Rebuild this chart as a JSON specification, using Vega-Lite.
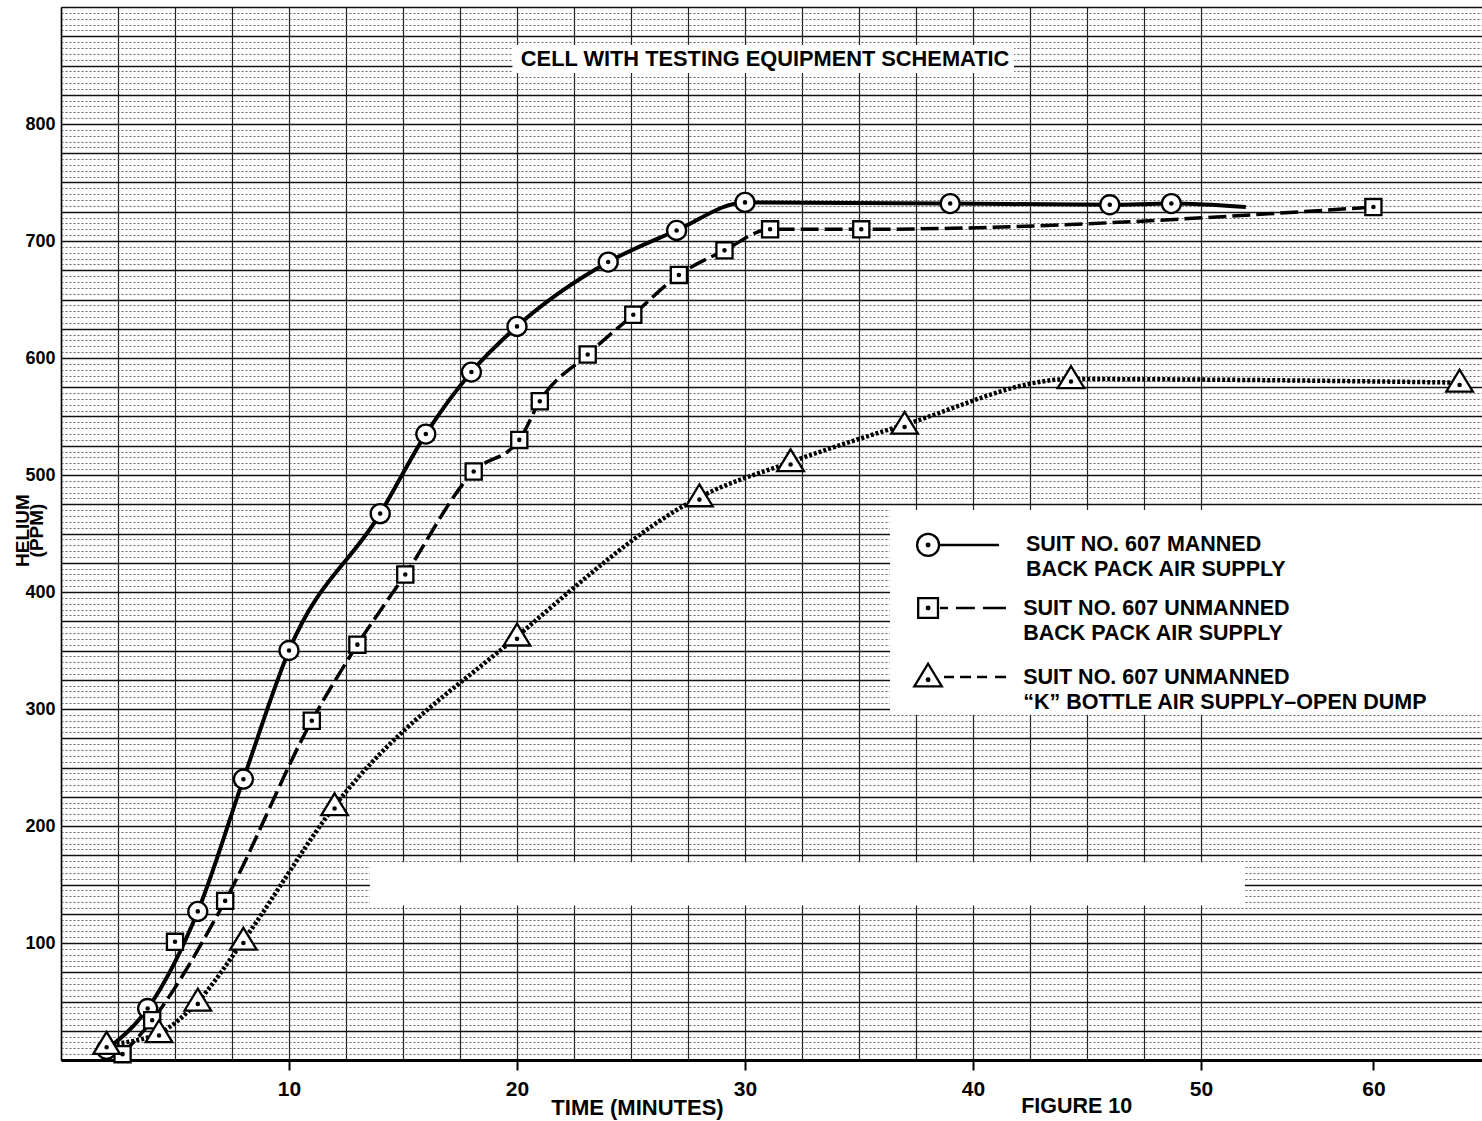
{
  "$schema": "https://vega.github.io/schema/vega-lite/v6.json",
  "width": 1421,
  "height": 1053,
  "autosize": "none",
  "padding": {"left": 61, "top": 7, "right": 0, "bottom": 61},
  "background": "white",
  "config": {"view": {"stroke": null}, "font": "Liberation Sans"},
  "title": {
    "text": "MANNED AND UNMANNED CHAMBER TEST, HELIUM TRACER",
    "font": "Liberation Sans",
    "fontSize": 21, "fontWeight": "bold", "color": "black",
    "anchor": "middle", "offset": 1, "dx": 11
  },
  "data": {"values": [
    {"series": "manned", "t": 2, "ppm": 9},
    {"series": "manned", "t": 3.8, "ppm": 44},
    {"series": "manned", "t": 6, "ppm": 127},
    {"series": "manned", "t": 8, "ppm": 240},
    {"series": "manned", "t": 10, "ppm": 350},
    {"series": "manned", "t": 14, "ppm": 467},
    {"series": "manned", "t": 16, "ppm": 535},
    {"series": "manned", "t": 18, "ppm": 588},
    {"series": "manned", "t": 20, "ppm": 627},
    {"series": "manned", "t": 24, "ppm": 682},
    {"series": "manned", "t": 27, "ppm": 709},
    {"series": "manned", "t": 30, "ppm": 733},
    {"series": "manned", "t": 39, "ppm": 732},
    {"series": "manned", "t": 46, "ppm": 731},
    {"series": "manned", "t": 48.7, "ppm": 732},
    {"series": "manned", "t": 52.6, "ppm": 729, "kind": "end"},
    {"series": "bp", "t": 2.7, "ppm": 5},
    {"series": "bp", "t": 4, "ppm": 34},
    {"series": "bp", "t": 5, "ppm": 101, "fit": false},
    {"series": "bp", "t": 7.2, "ppm": 136},
    {"series": "bp", "t": 11, "ppm": 290},
    {"series": "bp", "t": 13, "ppm": 355},
    {"series": "bp", "t": 15.1, "ppm": 415},
    {"series": "bp", "t": 18.1, "ppm": 503},
    {"series": "bp", "t": 20.1, "ppm": 530},
    {"series": "bp", "t": 21, "ppm": 563},
    {"series": "bp", "t": 23.1, "ppm": 603},
    {"series": "bp", "t": 25.1, "ppm": 637},
    {"series": "bp", "t": 27.1, "ppm": 671},
    {"series": "bp", "t": 29.1, "ppm": 692},
    {"series": "bp", "t": 31.1, "ppm": 710},
    {"series": "bp", "t": 35.1, "ppm": 710},
    {"series": "bp", "t": 60, "ppm": 729},
    {"series": "k", "t": 2, "ppm": 13},
    {"series": "k", "t": 4.3, "ppm": 23},
    {"series": "k", "t": 6, "ppm": 50},
    {"series": "k", "t": 8, "ppm": 102},
    {"series": "k", "t": 12, "ppm": 217},
    {"series": "k", "t": 20, "ppm": 362},
    {"series": "k", "t": 28, "ppm": 481},
    {"series": "k", "t": 32, "ppm": 511},
    {"series": "k", "t": 37, "ppm": 543},
    {"series": "k", "t": 44.3, "ppm": 582},
    {"series": "k", "t": 65, "ppm": 579}
  ]},
  "layer": [
    {
      "transform": [{"filter": "datum.series === 'manned'"}],
      "mark": {"type": "line", "interpolate": "monotone", "color": "black", "strokeWidth": 4},
      "encoding": {
        "x": {
          "field": "t", "type": "quantitative",
          "scale": {"type": "linear", "domain": [0, 50, 66.3], "range": [0, 1140, 1421], "zero": false, "nice": false},
          "axis": {
            "title": "TIME (MINUTES)",
            "titleFont": "Liberation Sans",
            "titleFontSize": 22, "titleFontWeight": "bold", "titleColor": "black",
            "titleX": 576, "titleY": 47, "titleBaseline": "middle", "titleAlign": "center",
            "values": [0,1.25,2.5,3.75,5,6.25,7.5,8.75,10,11.25,12.5,13.75,15,16.25,17.5,18.75,20,21.25,22.5,23.75,25,26.25,27.5,28.75,30,31.25,32.5,33.75,35,36.25,37.5,38.75,40,41.25,42.5,43.75,45,46.25,47.5,48.75,50,51.25,60],
            "labelExpr": "datum.value % 10 === 0 && datum.value > 0 ? datum.label : ''",
            "labelFont": "Liberation Sans",
            "labelFontSize": 21, "labelFontWeight": "bold", "labelColor": "black",
            "labelPadding": 8, "labelOverlap": false, "labelFlush": false, "labelBound": false,
            "tickSize": 10, "tickWidth": 2, "tickColor": "black",
            "tickOpacity": {"condition": {"test": "datum.value % 10 === 0 && datum.value > 0", "value": 1}, "value": 0},
            "domainColor": "black", "domainWidth": 3,
            "grid": true,
            "gridColor": {"condition": {"test": "datum.value % 2.5 === 0", "value": "#222222"}, "value": "#555555"},
            "gridWidth": {"condition": {"test": "datum.value % 2.5 === 0", "value": 1.2}, "value": 1},
            "gridDash": {"condition": {"test": "datum.value % 2.5 === 0", "value": []}, "value": [2, 2]},
            "gridOpacity": {"condition": {"test": "datum.value > 52", "value": 0}, "value": 1}
          }
        },
        "y": {
          "field": "ppm", "type": "quantitative",
          "scale": {"domain": [0, 900], "zero": false, "nice": false},
          "axis": {
            "title": ["HELIUM", "(PPM)"],
            "titleFont": "Liberation Sans", "titleFontSize": 19, "titleFontWeight": "bold", "titleColor": "black",
            "titleAngle": 270, "titleX": -39, "titleY": 523, "titleAlign": "center", "titleBaseline": "middle", "titleLineHeight": 14,
            "tickCount": 180,
            "labelExpr": "datum.value % 100 === 0 && datum.value > 0 && datum.value < 900 ? datum.label : ''",
            "labelFont": "Liberation Sans", "labelFontSize": 18, "labelFontWeight": "bold", "labelColor": "black",
            "labelPadding": 6, "labelOverlap": false, "labelFlush": false, "labelBound": false,
            "ticks": false,
            "domainColor": "black", "domainWidth": 1.5,
            "grid": true,
            "gridColor": {"condition": {"test": "datum.value % 25 === 0", "value": "#111111"}, "value": "#555555"},
            "gridWidth": {"condition": {"test": "datum.value % 25 === 0", "value": 1.6}, "value": 0.9},
            "gridDash": {"condition": {"test": "datum.value % 25 === 0", "value": []}, "value": [2, 2]}
          }
        }
      }
    },
    {
      "data": {"values": [{}]},
      "mark": {"type": "rect", "color": "white", "opacity": 1},
      "encoding": {
        "x": {"datum": 36.36, "type": "quantitative", "scale": {"type": "linear", "domain": [0, 50, 66.3], "range": [0, 1140, 1421], "zero": false, "nice": false}},
        "x2": {"datum": 66.3},
        "y": {"datum": 295, "type": "quantitative", "scale": {"domain": [0, 900], "zero": false, "nice": false}},
        "y2": {"datum": 470}
      }
    },
    {
      "data": {"values": [{}]},
      "mark": {"type": "rect", "color": "white", "opacity": 1},
      "encoding": {
        "x": {"datum": 13.55, "type": "quantitative", "scale": {"type": "linear", "domain": [0, 50, 66.3], "range": [0, 1140, 1421], "zero": false, "nice": false}},
        "x2": {"datum": 52.55},
        "y": {"datum": 132, "type": "quantitative", "scale": {"domain": [0, 900], "zero": false, "nice": false}},
        "y2": {"datum": 169}
      }
    },
    {
      "data": {"values": [{}]},
      "mark": {"type": "rect", "color": "white", "opacity": 1},
      "encoding": {
        "x": {"datum": 19.8, "type": "quantitative", "scale": {"type": "linear", "domain": [0, 50, 66.3], "range": [0, 1140, 1421], "zero": false, "nice": false}},
        "x2": {"datum": 41.8},
        "y": {"datum": 843.6, "type": "quantitative", "scale": {"domain": [0, 900], "zero": false, "nice": false}},
        "y2": {"datum": 867.5}
      }
    },
    {
      "transform": [{"filter": "datum.series === 'bp' && datum.fit !== false"}],
      "mark": {"type": "line", "interpolate": "monotone", "color": "black", "strokeWidth": 3.5, "strokeDash": [18, 6]},
      "encoding": {
        "x": {"field": "t", "type": "quantitative", "scale": {"type": "linear", "domain": [0, 50, 66.3], "range": [0, 1140, 1421], "zero": false, "nice": false}},
        "y": {"field": "ppm", "type": "quantitative", "scale": {"domain": [0, 900], "zero": false, "nice": false}}
      }
    },
    {
      "transform": [{"filter": "datum.series === 'k'"}],
      "mark": {"type": "line", "interpolate": "monotone", "color": "black", "strokeWidth": 4.5, "strokeDash": [3, 2]},
      "encoding": {
        "x": {"field": "t", "type": "quantitative", "scale": {"type": "linear", "domain": [0, 50, 66.3], "range": [0, 1140, 1421], "zero": false, "nice": false}},
        "y": {"field": "ppm", "type": "quantitative", "scale": {"domain": [0, 900], "zero": false, "nice": false}}
      }
    },
    {
      "transform": [{"filter": "datum.kind !== 'end'"}],
      "mark": {"type": "point", "filled": true, "fill": "white", "stroke": "black", "strokeWidth": 2.3, "size": 361, "opacity": 1},
      "encoding": {
        "x": {"field": "t", "type": "quantitative", "scale": {"type": "linear", "domain": [0, 50, 66.3], "range": [0, 1140, 1421], "zero": false, "nice": false}},
        "y": {"field": "ppm", "type": "quantitative", "scale": {"domain": [0, 900], "zero": false, "nice": false}},
        "shape": {
          "field": "series", "type": "nominal", "legend": null,
          "scale": {
            "domain": ["manned", "bp", "k"],
            "range": [
              "M-1,0A1,1,0,1,0,1,0A1,1,0,1,0,-1,0Z M-0.12,0A0.12,0.12,0,1,0,0.12,0A0.12,0.12,0,1,0,-0.12,0Z",
              "M-0.85,-0.85H0.85V0.85H-0.85Z M-0.12,0A0.12,0.12,0,1,0,0.12,0A0.12,0.12,0,1,0,-0.12,0Z",
              "M0,-1.35L1.4,0.95H-1.4Z M-0.12,0.25A0.12,0.12,0,1,0,0.12,0.25A0.12,0.12,0,1,0,-0.12,0.25Z"
            ]
          }
        }
      }
    },
    {
      "data": {"values": [{}]},
      "mark": {"type": "rule", "color": "black", "strokeWidth": 2.5},
      "encoding": {
        "x": {"datum": 38.51, "type": "quantitative", "scale": {"type": "linear", "domain": [0, 50, 66.3], "range": [0, 1140, 1421], "zero": false, "nice": false}},
        "x2": {"datum": 41.14},
        "y": {"datum": 440.2, "type": "quantitative", "scale": {"domain": [0, 900], "zero": false, "nice": false}}
      }
    },
    {
      "data": {"values": [{}]},
      "mark": {"type": "rule", "color": "black", "strokeWidth": 2.5, "strokeDash": [8, 8, 19, 8, 23, 10]},
      "encoding": {
        "x": {"datum": 38.55, "type": "quantitative", "scale": {"type": "linear", "domain": [0, 50, 66.3], "range": [0, 1140, 1421], "zero": false, "nice": false}},
        "x2": {"datum": 41.45},
        "y": {"datum": 386.3, "type": "quantitative", "scale": {"domain": [0, 900], "zero": false, "nice": false}}
      }
    },
    {
      "data": {"values": [{}]},
      "mark": {"type": "rule", "color": "black", "strokeWidth": 2.5, "strokeDash": [10, 6, 11, 6, 10, 8, 11, 10]},
      "encoding": {
        "x": {"datum": 38.73, "type": "quantitative", "scale": {"type": "linear", "domain": [0, 50, 66.3], "range": [0, 1140, 1421], "zero": false, "nice": false}},
        "x2": {"datum": 41.45},
        "y": {"datum": 327.4, "type": "quantitative", "scale": {"domain": [0, 900], "zero": false, "nice": false}}
      }
    },
    {
      "data": {"values": [{}]},
      "mark": {"type": "point", "shape": "M-1,0A1,1,0,1,0,1,0A1,1,0,1,0,-1,0Z M-0.12,0A0.12,0.12,0,1,0,0.12,0A0.12,0.12,0,1,0,-0.12,0Z", "size": 484, "filled": true, "fill": "white", "stroke": "black", "strokeWidth": 2.3, "opacity": 1},
      "encoding": {
        "x": {"datum": 38.03, "type": "quantitative", "scale": {"type": "linear", "domain": [0, 50, 66.3], "range": [0, 1140, 1421], "zero": false, "nice": false}},
        "y": {"datum": 440.2, "type": "quantitative", "scale": {"domain": [0, 900], "zero": false, "nice": false}}
      }
    },
    {
      "data": {"values": [{}]},
      "mark": {"type": "point", "shape": "M-0.9,-0.9H0.9V0.9H-0.9Z M-0.12,0A0.12,0.12,0,1,0,0.12,0A0.12,0.12,0,1,0,-0.12,0Z", "size": 484, "filled": true, "fill": "white", "stroke": "black", "strokeWidth": 2.3, "opacity": 1},
      "encoding": {
        "x": {"datum": 38.03, "type": "quantitative", "scale": {"type": "linear", "domain": [0, 50, 66.3], "range": [0, 1140, 1421], "zero": false, "nice": false}},
        "y": {"datum": 386.3, "type": "quantitative", "scale": {"domain": [0, 900], "zero": false, "nice": false}}
      }
    },
    {
      "data": {"values": [{}]},
      "mark": {"type": "point", "shape": "M0,-1.2L1.25,0.85H-1.25Z M-0.12,0.25A0.12,0.12,0,1,0,0.12,0.25A0.12,0.12,0,1,0,-0.12,0.25Z", "size": 484, "filled": true, "fill": "white", "stroke": "black", "strokeWidth": 2.3, "opacity": 1},
      "encoding": {
        "x": {"datum": 38.03, "type": "quantitative", "scale": {"type": "linear", "domain": [0, 50, 66.3], "range": [0, 1140, 1421], "zero": false, "nice": false}},
        "y": {"datum": 327.4, "type": "quantitative", "scale": {"domain": [0, 900], "zero": false, "nice": false}}
      }
    },
    {
      "data": {"values": [{}]},
      "mark": {"type": "text", "font": "Liberation Sans", "fontSize": 21.5, "fontWeight": "bold", "color": "black", "align": "left", "baseline": "middle", "lineHeight": 25},
      "encoding": {
        "x": {"datum": 42.32, "type": "quantitative", "scale": {"type": "linear", "domain": [0, 50, 66.3], "range": [0, 1140, 1421], "zero": false, "nice": false}},
        "y": {"datum": 440.2, "type": "quantitative", "scale": {"domain": [0, 900], "zero": false, "nice": false}},
        "text": {"value": ["SUIT NO. 607 MANNED", "BACK PACK AIR SUPPLY"]}
      }
    },
    {
      "data": {"values": [{}]},
      "mark": {"type": "text", "font": "Liberation Sans", "fontSize": 21.5, "fontWeight": "bold", "color": "black", "align": "left", "baseline": "middle", "lineHeight": 25},
      "encoding": {
        "x": {"datum": 42.2, "type": "quantitative", "scale": {"type": "linear", "domain": [0, 50, 66.3], "range": [0, 1140, 1421], "zero": false, "nice": false}},
        "y": {"datum": 385.5, "type": "quantitative", "scale": {"domain": [0, 900], "zero": false, "nice": false}},
        "text": {"value": ["SUIT NO. 607 UNMANNED", "BACK PACK AIR SUPPLY"]}
      }
    },
    {
      "data": {"values": [{}]},
      "mark": {"type": "text", "font": "Liberation Sans", "fontSize": 21.5, "fontWeight": "bold", "color": "black", "align": "left", "baseline": "middle", "lineHeight": 25},
      "encoding": {
        "x": {"datum": 42.2, "type": "quantitative", "scale": {"type": "linear", "domain": [0, 50, 66.3], "range": [0, 1140, 1421], "zero": false, "nice": false}},
        "y": {"datum": 326.5, "type": "quantitative", "scale": {"domain": [0, 900], "zero": false, "nice": false}},
        "text": {"value": ["SUIT NO. 607 UNMANNED", "\u201cK\u201d BOTTLE AIR SUPPLY\u2013OPEN DUMP"]}
      }
    },
    {
      "data": {"values": [{}]},
      "mark": {"type": "text", "font": "Liberation Sans", "fontSize": 21.8, "fontWeight": "bold", "color": "black", "align": "center", "baseline": "middle"},
      "encoding": {
        "x": {"datum": 30.88, "type": "quantitative", "scale": {"type": "linear", "domain": [0, 50, 66.3], "range": [0, 1140, 1421], "zero": false, "nice": false}},
        "y": {"datum": 855.6, "type": "quantitative", "scale": {"domain": [0, 900], "zero": false, "nice": false}},
        "text": {"value": "CELL WITH TESTING EQUIPMENT SCHEMATIC"}
      }
    },
    {
      "data": {"values": [{}]},
      "mark": {"type": "text", "font": "Liberation Sans", "fontSize": 21.5, "fontWeight": "bold", "color": "black", "align": "center", "baseline": "middle"},
      "encoding": {
        "x": {"datum": 44.55, "type": "quantitative", "scale": {"type": "linear", "domain": [0, 50, 66.3], "range": [0, 1140, 1421], "zero": false, "nice": false}},
        "y": {"datum": -40.5, "type": "quantitative", "scale": {"domain": [0, 900], "zero": false, "nice": false}},
        "text": {"value": "FIGURE 10"}
      }
    }
  ]
}
